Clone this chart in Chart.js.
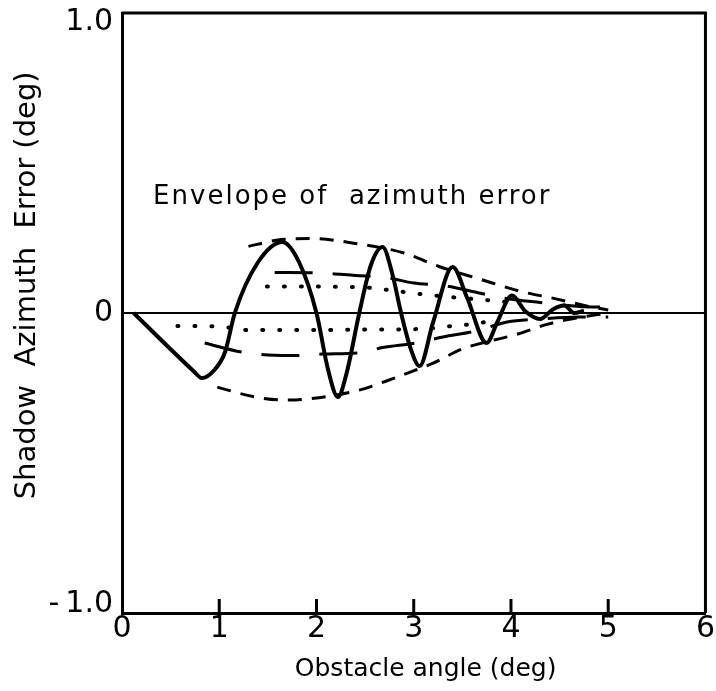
<!DOCTYPE html>
<html>
<head>
<meta charset="utf-8">
<script src="https://cdn.jsdelivr.net/npm/chart.js@4.4.0/dist/chart.umd.min.js"></script>
<style>
  html, body { margin: 0; padding: 0; background: #fff; }
  canvas { display: block; }
</style>
</head>
<body>
<canvas id="chart" width="716" height="691"></canvas>
<script>
// x ticks / y ticks
const xTicks = [0, 1, 2, 3, 4, 5, 6];
const yTicks = [-1, 0, 1];
// end labels sit a little inside the frame, as in the original
const yTickLabels = [['-\u20091.0', ''], '0', ['', '1.0']];

// solid curve: shadow azimuth error
const errX = [0.12, 0.45, 0.74, 0.82, 0.95, 1.06, 1.16, 1.4, 1.65, 1.82, 2.0, 2.12, 2.22, 2.31, 2.44, 2.56, 2.68, 2.78, 2.87, 2.97, 3.06, 3.2, 3.4, 3.55, 3.75, 3.86, 4.01, 4.15, 4.3, 4.43, 4.55, 4.65, 4.75];
const errY = [0, -0.105, -0.195, -0.217, -0.19, -0.13, 0, 0.17, 0.237, 0.17, 0, -0.19, -0.28, -0.2, 0, 0.16, 0.22, 0.13, 0, -0.12, -0.177, -0.03, 0.153, 0.05, -0.1, -0.03, 0.058, 0.005, -0.02, 0.012, 0.025, 0.0, 0.008];

// short-dash envelope, upper and lower
const envUpX = [1.3, 1.6, 1.95, 2.4, 2.9, 3.26, 3.68, 4.1, 4.45, 4.8, 5.0];
const envUpY = [0.222, 0.243, 0.248, 0.232, 0.2, 0.155, 0.113, 0.072, 0.048, 0.022, 0.01];
const envLoX = [0.98, 1.37, 1.67, 1.95, 2.44, 2.8, 3.02, 3.2, 3.5, 4.07, 4.38, 4.67, 5.0];
const envLoY = [-0.247, -0.28, -0.29, -0.285, -0.257, -0.217, -0.19, -0.167, -0.12, -0.07, -0.037, -0.017, 0];

// long-dash lines
const longUpX = [1.57, 2.06, 2.4, 2.72, 3.0, 3.33, 3.63, 3.92, 4.3, 4.7, 5.0];
const longUpY = [0.135, 0.133, 0.125, 0.118, 0.1, 0.09, 0.07, 0.05, 0.035, 0.022, 0.02];
const longLoX = [0.85, 1.23, 1.5, 1.86, 2.06, 2.44, 2.68, 3.02, 3.3, 3.64, 3.96, 4.3, 4.7, 5.0];
const longLoY = [-0.1, -0.13, -0.14, -0.142, -0.137, -0.133, -0.115, -0.1, -0.08, -0.06, -0.03, -0.02, -0.013, -0.013];

// dotted lines
const dotUpX = [1.49, 2.0, 2.5, 2.78, 3.07, 3.38, 3.74, 4.0];
const dotUpY = [0.088, 0.088, 0.085, 0.075, 0.063, 0.053, 0.043, 0.035];
const dotLoX = [0.57, 1.0, 1.3, 2.0, 2.6, 3.1, 3.4, 3.6, 3.8];
const dotLoY = [-0.043, -0.045, -0.057, -0.057, -0.055, -0.053, -0.043, -0.037, -0.027];

const zeroX = [0, 6];
const zeroY = [0, 0];

const pts = (xs, ys) => xs.map((x, i) => ({x: x, y: ys[i]}));
const font = "'DejaVu Sans', sans-serif";

const frame = {
  id: 'frame',
  afterDraw(chart) {
    const {ctx, chartArea: a, scales: {x, y}} = chart;
    ctx.save();
    ctx.strokeStyle = '#000';
    ctx.lineWidth = 3;
    ctx.beginPath();
    ctx.moveTo(a.left, a.top);
    ctx.lineTo(a.right, a.top);
    ctx.lineTo(a.right, a.bottom);
    ctx.stroke();
    // inward tick marks on the bottom axis
    xTicks.slice(1, -1).forEach(v => {
      const px = x.getPixelForValue(v);
      ctx.beginPath();
      ctx.moveTo(px, a.bottom);
      ctx.lineTo(px, a.bottom - 14);
      ctx.stroke();
    });
    ctx.fillStyle = '#000';
    ctx.font = "26px " + font;
    ctx.letterSpacing = '2px';
    ctx.textBaseline = 'middle';
    ctx.fillText('Envelope of  azimuth error', x.getPixelForValue(0.32), y.getPixelForValue(0.385));
    ctx.restore();
  }
};

new Chart(document.getElementById('chart').getContext('2d'), {
  type: 'line',
  data: {
    datasets: [
      {data: pts(zeroX, zeroY), borderColor: '#000', borderWidth: 2, pointRadius: 0},
      {data: pts(envUpX, envUpY), borderColor: '#000', borderWidth: 3, borderDash: [14, 10], pointRadius: 0, cubicInterpolationMode: 'monotone'},
      {data: pts(envLoX, envLoY), borderColor: '#000', borderWidth: 3, borderDash: [14, 10], pointRadius: 0, cubicInterpolationMode: 'monotone'},
      {data: pts(longUpX, longUpY), borderColor: '#000', borderWidth: 3, borderDash: [38, 20], pointRadius: 0, cubicInterpolationMode: 'monotone'},
      {data: pts(longLoX, longLoY), borderColor: '#000', borderWidth: 3, borderDash: [38, 20], pointRadius: 0, cubicInterpolationMode: 'monotone'},
      {data: pts(dotUpX, dotUpY), borderColor: '#000', borderWidth: 4, borderDash: [1, 16], borderCapStyle: 'round', pointRadius: 0, cubicInterpolationMode: 'monotone'},
      {data: pts(dotLoX, dotLoY), borderColor: '#000', borderWidth: 4, borderDash: [1, 16], borderCapStyle: 'round', pointRadius: 0, cubicInterpolationMode: 'monotone'},
      {data: pts(errX, errY), borderColor: '#000', borderWidth: 4, pointRadius: 0, cubicInterpolationMode: 'monotone'}
    ]
  },
  options: {
    responsive: false,
    animation: false,
    devicePixelRatio: 1,
    layout: {padding: {top: 13, right: 9, left: 0, bottom: 0}},
    plugins: {legend: {display: false}, tooltip: {enabled: false}},
    scales: {
      x: {
        type: 'linear', min: 0, max: 6,
        afterBuildTicks: s => { s.ticks = xTicks.map(v => ({value: v})); },
        afterFit: s => { s.height = 78; },
        grid: {display: false, drawTicks: false, tickLength: 0},
        border: {color: '#000', width: 3},
        ticks: {color: '#000', font: {family: font, size: 30, lineHeight: 1}, padding: 1, maxRotation: 0},
        title: {display: true, text: '   Obstacle angle (deg)', color: '#000', font: {family: font, size: 25}, padding: {top: 0, bottom: 7}}
      },
      y: {
        min: -1, max: 1,
        afterBuildTicks: s => { s.ticks = yTicks.map(v => ({value: v})); },
        afterFit: s => { s.width = 122; s.paddingTop = 0; s.paddingBottom = 0; },
        grid: {display: false, drawTicks: false, tickLength: 0},
        border: {color: '#000', width: 3},
        ticks: {color: '#000', font: {family: font, size: 30, lineHeight: 0.6}, padding: 9,
          callback: v => yTickLabels[yTicks.indexOf(v)]},
        title: {display: true, text: '      Shadow  Azimuth  Error (deg)', color: '#000', font: {family: font, size: 29}, padding: {top: 10, bottom: 0}}
      }
    }
  },
  plugins: [frame]
});
</script>
</body>
</html>
